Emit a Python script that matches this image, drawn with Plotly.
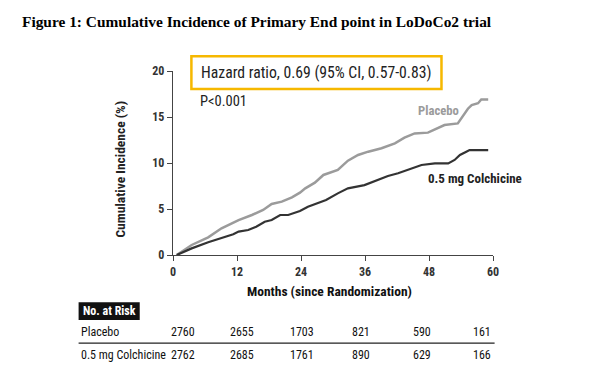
import plotly.graph_objects as go

# ---------------- data ----------------
placebo_months = [0.7, 3.5, 6.6, 9.1, 12.3, 14.8, 16.9, 18.5, 20.4, 22.3, 23.8, 24.8, 26.6, 28.2,
                  30.9, 32.8, 34.7, 36.6, 39.1, 41.6, 43.4, 45.3, 47.8, 49.7, 50.9, 53.4, 54.4,
                  55.3, 56.0, 57.2, 57.8, 59.1]
placebo_inc = [0.0, 1.09, 1.92, 2.9, 3.8, 4.35, 4.9, 5.54, 5.8, 6.27, 6.78, 7.25, 7.86, 8.7,
               9.24, 10.25, 10.87, 11.23, 11.6, 12.14, 12.75, 13.22, 13.3, 13.77, 14.13, 14.3, 15.2,
               15.9, 16.3, 16.5, 16.9, 16.9]

colch_months = [0.7, 3.5, 6.6, 9.1, 11.3, 12.3, 14.1, 15.6, 17.2, 18.5, 20.1, 21.6, 23.8, 25.3,
                27.2, 28.7, 30.9, 32.8, 35.9, 38.4, 40.3, 42.2, 44.1, 46.6, 49.1, 51.6, 52.8,
                53.8, 55.0, 55.6, 59.1]
colch_inc = [0.0, 0.72, 1.38, 1.81, 2.25, 2.54, 2.72, 3.08, 3.62, 3.8, 4.35, 4.35, 4.78, 5.25,
             5.62, 5.98, 6.7, 7.25, 7.6, 8.15, 8.59, 8.88, 9.24, 9.78, 9.96, 9.96, 10.33,
             10.87, 11.23, 11.41, 11.41]

x_ticks = [0, 12, 24, 36, 48, 60]
y_ticks = [0, 5, 10, 15, 20]

risk_groups = ["Placebo", "0.5 mg Colchicine"]
risk_placebo = [2760, 2655, 1703, 821, 590, 161]
risk_colch = [2762, 2685, 1761, 890, 629, 166]

title_text = "Figure 1: Cumulative Incidence of Primary End point in LoDoCo2 trial"
hr_text = "Hazard ratio, 0.69 (95% CI, 0.57-0.83)"
p_text = "P<0.001"

# ---------------- styling ----------------
NARROW = "Roboto Condensed, DejaVu Sans Condensed, sans-serif"
SERIF = "Liberation Serif, Times New Roman, serif"
GRAY = "#9b9b9b"
DARK = "#333333"
AX = "#444444"

fig = go.Figure()
fig.add_trace(go.Scatter(x=placebo_months, y=placebo_inc, mode="lines",
                         line=dict(color=GRAY, width=2.5), showlegend=False, hoverinfo="skip"))
fig.add_trace(go.Scatter(x=colch_months, y=colch_inc, mode="lines",
                         line=dict(color=DARK, width=2.2), showlegend=False, hoverinfo="skip"))

axis_common = dict(showgrid=False, zeroline=False, showline=True, linecolor=AX, linewidth=1.3,
                   ticks="outside", ticklen=5, tickwidth=1.3, tickcolor=AX,
                   tickfont=dict(family=NARROW, size=12, color=DARK, weight="bold"))

fig.update_xaxes(range=[0, 60], tickvals=x_ticks, ticktext=[str(t) for t in x_ticks], **axis_common)
fig.update_yaxes(range=[0, 20], tickvals=y_ticks, ticktext=[str(t) for t in y_ticks], **axis_common)

annotations = []
shapes = []

# title
annotations.append(dict(text=title_text, xref="paper", yref="paper", x=0.262, y=1.271,
                        xanchor="center", yanchor="middle", showarrow=False,
                        font=dict(family=SERIF, size=15.4, color="#000000", weight="bold")))
# hazard ratio box
shapes.append(dict(type="rect", xref="paper", yref="paper", x0=0.0575, x1=0.839, y0=0.902, y1=1.080,
                   line=dict(color="#f6b800", width=2.5), fillcolor="rgba(0,0,0,0)"))
annotations.append(dict(text=hr_text, xref="paper", yref="paper", x=0.080, y=0.993,
                        xanchor="left", yanchor="middle", showarrow=False,
                        font=dict(family=NARROW, size=15.7, color="#222222")))
annotations.append(dict(text=p_text, xref="paper", yref="paper", x=0.077, y=0.834,
                        xanchor="left", yanchor="middle", showarrow=False,
                        font=dict(family=NARROW, size=14.5, color="#222222")))
# series labels
annotations.append(dict(text="Placebo", xref="paper", yref="paper", x=0.758, y=0.783,
                        xanchor="left", yanchor="middle", showarrow=False,
                        font=dict(family=NARROW, size=12.7, color=GRAY, weight="bold")))
annotations.append(dict(text="0.5 mg Colchicine", xref="paper", yref="paper", x=0.790, y=0.418,
                        xanchor="left", yanchor="middle", showarrow=False,
                        font=dict(family=NARROW, size=13, color="#222222", weight="bold")))
# axis titles
annotations.append(dict(text="Cumulative Incidence (%)", xref="paper", yref="paper", x=-0.164, y=0.467,
                        xanchor="center", yanchor="middle", showarrow=False, textangle=-90,
                        font=dict(family=NARROW, size=13.5, color="#222222", weight="bold")))
annotations.append(dict(text="Months (since Randomization)", xref="paper", yref="paper", x=0.49, y=-0.195,
                        xanchor="center", yanchor="middle", showarrow=False,
                        font=dict(family=NARROW, size=13.5, color="#111111", weight="bold")))

# number at risk table
shapes.append(dict(type="rect", xref="paper", yref="paper", x0=-0.295, x1=-0.104, y0=-0.353, y1=-0.257,
                   line=dict(width=0), fillcolor="#111111"))
annotations.append(dict(text="No. at Risk", xref="paper", yref="paper", x=-0.199, y=-0.305,
                        xanchor="center", yanchor="middle", showarrow=False,
                        font=dict(family=NARROW, size=12, color="#ffffff", weight="bold")))
row_y = [-0.416, -0.543]
col_x = [0.030, 0.216, 0.404, 0.587, 0.778, 0.967]
for gi, (name, vals) in enumerate(zip(risk_groups, [risk_placebo, risk_colch])):
    annotations.append(dict(text=name, xref="paper", yref="paper", x=-0.295, y=row_y[gi],
                            xanchor="left", yanchor="middle", showarrow=False,
                            font=dict(family=NARROW, size=12, color="#111111")))
    for cx, v in zip(col_x, vals):
        annotations.append(dict(text=str(v), xref="paper", yref="paper", x=cx, y=row_y[gi],
                                xanchor="center", yanchor="middle", showarrow=False,
                                font=dict(family=NARROW, size=12, color="#111111")))
shapes.append(dict(type="line", xref="paper", yref="paper", x0=-0.295, x1=1.005, y0=-0.479, y1=-0.479,
                   line=dict(color="#222222", width=1.2)))

fig.update_layout(width=600, height=372, autosize=False,
                  margin=dict(l=173, r=107, t=71, b=117, pad=0),
                  paper_bgcolor="white", plot_bgcolor="white",
                  annotations=annotations, shapes=shapes, showlegend=False)

fig.write_html("out.html", config={"displayModeBar": False},
               post_script="document.body.style.margin='0';document.body.style.overflow='hidden';")
